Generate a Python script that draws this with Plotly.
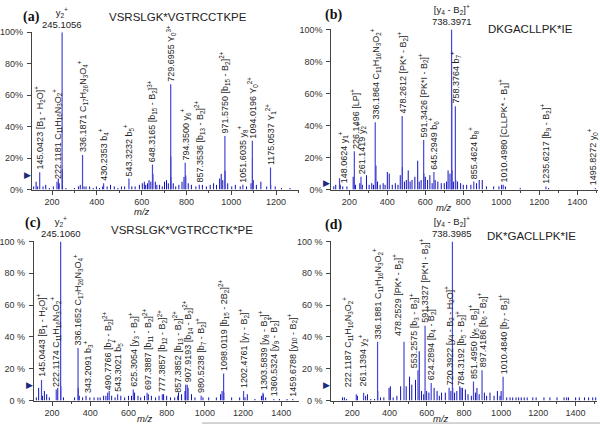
import plotly.graph_objects as go

# ---------------- data ----------------
# Panel (a)  VSRSLGK*VGTRCCTKPE
a_lab_mz = [145.0423, 222.1181, 245.1056, 336.1871, 430.2353, 543.3232, 648.3165, 729.6955,
            794.3500, 857.3536, 971.5750, 1051.6035, 1094.0196, 1175.0537]
a_lab_int = [11, 5, 100, 22, 4, 7, 16, 67, 17, 3, 34, 3, 31, 14]
a_lab_txt = ["145.0423 [B<sub>1</sub> - H<sub>2</sub>O]<sup>+</sup>",
             "222.1181 C<sub>11</sub>H<sub>16</sub>N<sub>3</sub>O<sub>2</sub><sup>+</sup>",
             "y<sub>2</sub><sup>+</sup><br>245.1056",
             "336.1871 C<sub>17</sub>H<sub>26</sub>N<sub>3</sub>O<sub>4</sub><sup>+</sup>",
             "430.2353 b<sub>4</sub><sup>+</sup>",
             "543.3232 b<sub>5</sub><sup>+</sup>",
             "648.3165 [b<sub>15</sub> - B<sub>2</sub>]<sup>3+</sup>",
             "729.6955 Y<sub>0</sub><sup>3+</sup>",
             "794.3500 y<sub>6</sub><sup>+</sup>",
             "857.3536 [b<sub>13</sub> - B<sub>2</sub>]<sup>2+</sup>",
             "971.5750 [b<sub>15</sub> - B<sub>2</sub>]<sup>2+</sup>",
             "1051.6035 y<sub>8</sub><sup>+</sup>",
             "1094.0196 Y<sub>0</sub><sup>2+</sup>",
             "1175.0537 Y<sub>1</sub><sup>2+</sup>"]
a_noise_mz = [118, 129, 136, 160, 172, 188, 206, 228, 232, 246.1, 247, 262, 300, 318, 326, 343, 352, 368,
              384, 398, 412, 426, 446, 461, 478, 494, 510, 524, 556, 571, 590, 603, 612, 618, 626, 633,
              641, 650.3, 661, 668, 680, 692, 702, 711, 719, 730.03, 730.36, 741, 752, 766, 780, 789,
              797, 808, 822, 842, 871, 889, 906, 921, 934, 948, 955, 962, 972.08, 984, 1002, 1018,
              1040, 1068, 1088, 1094.52, 1098, 1112, 1132, 1158, 1176, 1196, 1224, 1262]
a_noise_int = [2, 5, 2, 2, 3, 1, 2, 7, 4, 13, 3, 1, 1, 2, 3, 2, 2, 2,
               1, 2, 1, 2, 2, 3, 2, 1, 2, 2, 2, 2, 3, 4, 5, 3, 4, 6,
               5, 10, 5, 3, 3, 2, 5, 6, 4, 21, 8, 4, 2, 3, 5, 8,
               9, 4, 3, 2, 3, 2, 3, 4, 3, 7, 10, 6, 12, 4, 2, 3,
               2, 2, 4, 20, 6, 3, 5, 2, 3, 2, 1, 1]

# Panel (b)  DKGACLLPK*IE
b_lab_mz = [148.0624, 226.1496, 261.1419, 336.1864, 478.2612, 591.3426, 645.2949, 738.3971,
            758.3764, 855.4624, 1010.4980, 1235.6217, 1495.8272]
b_lab_int = [7, 24, 8, 42, 46, 31, 11, 100, 52, 5, 3, 2, 1]
b_lab_txt = ["148.0624 y<sub>1</sub><sup>+</sup>",
             "226.1496 [LP]<sup>+</sup>",
             "261.1419 y<sub>2</sub><sup>+</sup>",
             "336.1864 C<sub>11</sub>H<sub>16</sub>N<sub>3</sub>O<sub>2</sub><sup>+</sup>",
             "478.2612 [PK* - B<sub>2</sub>]<sup>+</sup>",
             "591.3426 [PK*I - B<sub>2</sub>]<sup>+</sup>",
             "645.2949 b<sub>6</sub><sup>+</sup>",
             "[y<sub>4</sub> - B<sub>2</sub>]<sup>+</sup><br>738.3971",
             "758.3764 b<sub>7</sub><sup>+</sup>",
             "855.4624 b<sub>8</sub><sup>+</sup>",
             "1010.4980 [CLLPK* - B<sub>1</sub>]<sup>+</sup>",
             "1235.6217 [b<sub>9</sub> - B<sub>2</sub>]<sup>+</sup>",
             "1495.8272 y<sub>0</sub><sup>+</sup>"]
b_noise_mz = [118, 128, 152, 165, 187, 220, 232, 255, 268, 290, 304, 318, 327, 340, 348, 362, 378, 388,
              400, 410, 426, 442, 456, 468, 479.26, 490, 500, 510, 520, 530, 545, 560, 568, 578,
              592.34, 600, 612, 624, 636, 652, 666, 684, 700, 712, 720, 730, 739.4, 740.4, 748,
              760.4, 770, 786, 800, 818, 840, 870, 884, 900, 922, 960, 988, 1002, 1022, 1100, 1250]
b_noise_int = [2, 3, 3, 2, 2, 8, 3, 4, 3, 9, 3, 4, 3, 15, 5, 3, 4, 3,
               11, 10, 3, 4, 3, 9, 14, 5, 6, 12, 5, 6, 8, 18, 5, 6,
               10, 8, 6, 9, 4, 6, 5, 4, 4, 5, 12, 10, 57, 12, 5,
               6, 5, 4, 3, 3, 3, 4, 6, 6, 2, 2, 2, 3, 2, 1, 1]

# Panel (c)  VSRSLGK*VGTRCCTK*PE
c_lab_mz = [145.0443, 222.1174, 245.1060, 336.1652, 343.2091, 490.7766, 543.3021, 625.3054,
            697.3887, 777.3857, 857.3852, 907.9193, 980.5238, 1098.0119, 1202.4761, 1303.5839,
            1360.5324, 1459.6788]
c_lab_int = [13, 7, 100, 33, 3, 5, 4, 7, 5, 4, 3, 10, 3, 17, 6, 5, 1, 1]
c_lab_txt = ["145.0443 [B<sub>1</sub> - H<sub>2</sub>O]<sup>+</sup>",
             "222.1174 C<sub>11</sub>H<sub>16</sub>N<sub>3</sub>O<sub>2</sub><sup>+</sup>",
             "y<sub>2</sub><sup>+</sup><br>245.1060",
             "336.1652 C<sub>17</sub>H<sub>26</sub>N<sub>3</sub>O<sub>4</sub><sup>+</sup>",
             "343.2091 b<sub>3</sub><sup>+</sup>",
             "490.7766 [b<sub>7</sub> - B<sub>2</sub>]<sup>2+</sup>",
             "543.3021 b<sub>5</sub><sup>+</sup>",
             "625.3054 [y<sub>3</sub> - B<sub>2</sub>]<sup>+</sup>",
             "697.3887 [b<sub>11</sub> - B<sub>2</sub>]<sup>2+</sup>",
             "777.3857 [b<sub>12</sub> - B<sub>2</sub>]<sup>2+</sup>",
             "857.3852 [b<sub>13</sub> - B<sub>2</sub>]<sup>2+</sup>",
             "907.9193 [b<sub>14</sub> - B<sub>2</sub>]<sup>2+</sup>",
             "980.5238 [b<sub>7</sub> - B<sub>2</sub>]<sup>+</sup>",
             "1098.0119 [b<sub>15</sub> - 2B<sub>2</sub>]<sup>2+</sup>",
             "1202.4761 [y<sub>7</sub> - B<sub>2</sub>]<sup>+</sup>",
             "1303.5839 [y<sub>8</sub> - B<sub>2</sub>]<sup>+</sup>",
             "1360.5324 [y<sub>9</sub> - B<sub>2</sub>]<sup>+</sup>",
             "1459.6788 [y<sub>10</sub> - B<sub>2</sub>]<sup>+</sup>"]
c_noise_mz = [118, 130, 150, 160, 172, 186, 230, 246.1, 260, 318, 337.2, 360, 378, 398, 420, 440, 452,
              470, 482, 499, 512, 530, 560, 580, 600, 616, 632, 650, 664, 684, 704, 720, 742, 760,
              784, 800, 820, 842, 862, 878, 896, 900, 912, 930, 948, 990, 1020, 1060, 1082, 1090,
              1099, 1140, 1182, 1210, 1222, 1262, 1296, 1306, 1318, 1390, 1430]
c_noise_int = [2, 8, 3, 6, 4, 2, 8, 9, 2, 2, 8, 2, 3, 2, 2, 2, 2,
               3, 3, 6, 3, 2, 3, 2, 3, 3, 5, 3, 2, 3, 4, 3, 2, 3,
               4, 3, 2, 2, 5, 4, 6, 10, 8, 4, 2, 2, 2, 2, 4, 6,
               5, 2, 2, 2, 4, 1, 3, 4, 2, 1, 1]

# Panel (d)  DK*GACLLPK*IE
d_lab_mz = [222.1187, 261.1394, 336.1881, 478.2529, 553.2575, 591.3327, 624.2894, 720.3922,
            738.3985, 784.3192, 851.4950, 897.4186, 1010.4840]
d_lab_int = [4, 5, 37, 37, 19, 47, 11, 8, 100, 8, 12, 19, 15]
d_lab_txt = ["222.1187 C<sub>11</sub>H<sub>16</sub>N<sub>3</sub>O<sub>2</sub><sup>+</sup>",
             "261.1394 y<sub>2</sub><sup>+</sup>",
             "336.1881 C<sub>11</sub>H<sub>16</sub>N<sub>3</sub>O<sub>2</sub><sup>+</sup>",
             "478.2529 [PK* - B<sub>2</sub>]<sup>+</sup>",
             "553.2575 [b<sub>3</sub> - B<sub>2</sub>]<sup>+</sup>",
             "591.3327 [PK*I - B<sub>2</sub>]<sup>+</sup>",
             "624.2894 [b<sub>4</sub> - B<sub>2</sub>]<sup>+</sup>",
             "720.3922 [y<sub>4</sub> - B<sub>2</sub> - H<sub>2</sub>O]<sup>+</sup>",
             "[y<sub>4</sub> - B<sub>2</sub>]<sup>+</sup><br>738.3985",
             "784.3192 [b<sub>5</sub> - B<sub>2</sub>]<sup>+</sup>",
             "851.4950 [y<sub>5</sub> - B<sub>2</sub>]<sup>+</sup>",
             "897.4186 [b<sub>6</sub> - B<sub>2</sub>]<sup>+</sup>",
             "1010.4840 [b<sub>7</sub> - B<sub>2</sub>]<sup>+</sup>"]
d_noise_mz = [148, 158, 170, 228, 272, 282, 300, 320, 337.2, 352, 370, 398, 405, 420, 440, 460, 490,
              508, 520, 540, 560, 572, 584, 600, 612, 640, 656, 668, 680, 700, 730, 740, 750, 762,
              778, 792, 808, 822, 840, 862, 870, 882, 910, 922, 940, 962, 980, 994, 1000, 1030,
              1048, 1062, 1080, 1094, 1108, 1124, 1140, 1170, 1188, 1230, 1262, 1300, 1338, 1352,
              1362, 1400, 1420, 1448, 1470, 1492, 1508]
d_noise_int = [2, 2, 1, 3, 3, 4, 1, 1, 6, 2, 2, 8, 9, 2, 3, 9, 9,
               15, 10, 13, 31, 6, 4, 6, 5, 8, 6, 3, 5, 5, 6, 8, 5, 6,
               9, 8, 7, 4, 3, 5, 8, 4, 5, 3, 5, 3, 6, 3, 6, 2,
               2, 2, 2, 2, 2, 2, 2, 2, 2, 2, 2, 2, 2, 2,
               2, 2, 2, 2, 2, 2, 2]

y_ticks = [0, 20, 40, 60, 80, 100]

# ---------------- style / layout ----------------
LAB_COL = "#4646d8"
NOISE_COL = "#1010b8"
FONT = "Liberation Sans"

panels = [
    dict(key="a", letter="(a)", seq="VSRSLGK*VGTRCCTKPE",
         lab_mz=a_lab_mz, lab_int=a_lab_int, lab_txt=a_lab_txt,
         n_mz=a_noise_mz, n_int=a_noise_int,
         xdom=[0.0483, 0.495], ydom=[0.5605, 0.9349], xr=[110, 1300],
         xt=[200, 400, 600, 800, 1000, 1200], pct="%", thr=9,
         letter_xy=(29, 12), seq_xy=(176, 12), mz_xy=(140, 211)),
    dict(key="b", letter="(b)", seq="DKGACLLPK*IE",
         lab_mz=b_lab_mz, lab_int=b_lab_int, lab_txt=b_lab_txt,
         n_mz=b_noise_mz, n_int=b_noise_int,
         xdom=[0.55, 0.9967], ydom=[0.5605, 0.9419], xr=[105, 1510],
         xt=[200, 400, 600, 800, 1000, 1200, 1400], pct="%", thr=4,
         letter_xy=(332, 10), seq_xy=(530, 25), mz_xy=(443, 207)),
    dict(key="c", letter="(c)", seq="VSRSLGK*VGTRCCTK*PE",
         lab_mz=c_lab_mz, lab_int=c_lab_int, lab_txt=c_lab_txt,
         n_mz=c_noise_mz, n_int=c_noise_int,
         xdom=[0.0517, 0.495], ydom=[0.0581, 0.4372], xr=[105, 1490],
         xt=[200, 400, 600, 800, 1000, 1200, 1400], pct=" %", thr=10,
         letter_xy=(30, 223), seq_xy=(180, 230), mz_xy=(143, 423)),
    dict(key="d", letter="(d)", seq="DK*GACLLPK*IE",
         lab_mz=d_lab_mz, lab_int=d_lab_int, lab_txt=d_lab_txt,
         n_mz=d_noise_mz, n_int=d_noise_int,
         xdom=[0.55, 0.995], ydom=[0.0581, 0.4372], xr=[88, 1515],
         xt=[200, 400, 600, 800, 1000, 1200, 1400], pct=" %", thr=10,
         letter_xy=(332, 225), seq_xy=(531, 236), mz_xy=(440, 423)),
]

# per-label tweaks: (panel, mz) -> (label y offset in %, xshift px)
tweak = {
    ("b", 148.0624): (-5, 4),
    ("b", 1495.8272): (0, -2),
    ("c", 343.2091): (0, 9),
    ("d", 222.1187): (3, -8),
    ("d", 261.1394): (2, 0),
    ("d", 478.2529): (2, -6),
    ("d", 553.2575): (0, -4),
}

W, H = 600, 430
fig = go.Figure()
annotations = []

def sticks(mz, inten):
    xs, ys = [], []
    for m, v in zip(mz, inten):
        xs += [m, m, None]
        ys += [0, v, None]
    return xs, ys

for i, p in enumerate(panels):
    n = "" if i == 0 else str(i + 1)
    xa, ya = "x" + n, "y" + n
    xs, ys = sticks(p["n_mz"], p["n_int"])
    fig.add_trace(go.Scatter(x=xs, y=ys, mode="lines", xaxis=xa, yaxis=ya,
                             line=dict(color=NOISE_COL, width=1), showlegend=False, hoverinfo="skip"))
    xs, ys = sticks(p["lab_mz"], p["lab_int"])
    fig.add_trace(go.Scatter(x=xs, y=ys, mode="lines", xaxis=xa, yaxis=ya,
                             line=dict(color=LAB_COL, width=1.2), showlegend=False, hoverinfo="skip"))

    axis_common = dict(showline=True, linecolor="#444", linewidth=1, ticks="outside", ticklen=4,
                       tickcolor="#444", tickfont=dict(family=FONT, size=9, color="#333"),
                       showgrid=False, zeroline=False)
    fig.update_layout(**{
        "xaxis" + n: dict(domain=p["xdom"], range=p["xr"], anchor=ya, tickvals=p["xt"],
                          minor=dict(ticks="outside", ticklen=2, dtick=100, tickcolor="#444"),
                          **axis_common),
        "yaxis" + n: dict(domain=p["ydom"], range=[0, 100], anchor=xa, tickvals=y_ticks,
                          ticktext=[f"{t}{p['pct']}" for t in y_ticks], ticklabelstandoff=2,
                          **axis_common),
    })

    for m, v, t in zip(p["lab_mz"], p["lab_int"], p["lab_txt"]):
        if v >= 100:
            annotations.append(dict(x=m, y=100, xref=xa, yref=ya, text=t, showarrow=False,
                                    xanchor="center", yanchor="bottom", yshift=0,
                                    font=dict(family=FONT, size=9.5, color="#222")))
            continue
        dy, dx = tweak.get((p["key"], m), (0, 0))
        annotations.append(dict(x=m, y=v + 1 + dy, xref=xa, yref=ya, text=t, showarrow=False,
                                textangle=-90, xanchor="center", yanchor="bottom", xshift=dx,
                                borderpad=0,
                                font=dict(family=FONT, size=9, color="#222")))

    # threshold marker
    annotations.append(dict(x=0, y=p["thr"], xref=xa + " domain", yref=ya, text="▶",
                            showarrow=False, xanchor="right", yanchor="middle", xshift=1,
                            font=dict(family="DejaVu Sans", size=9, color="#1c2a80")))
    lx, ly = p["letter_xy"]
    annotations.append(dict(x=lx / W, y=1 - ly / H, xref="paper", yref="paper", text="<b>" + p["letter"] + "</b>",
                            showarrow=False, xanchor="center", yanchor="middle",
                            font=dict(family="Liberation Serif", size=14, color="#111")))
    sx, sy = p["seq_xy"]
    annotations.append(dict(x=sx / W, y=1 - sy / H, xref="paper", yref="paper", text=p["seq"],
                            showarrow=False, xanchor="center", yanchor="middle",
                            font=dict(family=FONT, size=11.5, color="#222")))
    mx, my = p["mz_xy"]
    annotations.append(dict(x=mx / W, y=1 - my / H, xref="paper", yref="paper", text="<i>m/z</i>",
                            showarrow=False, xanchor="center", yanchor="middle",
                            font=dict(family=FONT, size=9.5, color="#222")))

fig.update_layout(
    width=W, height=H, margin=dict(l=0, r=0, t=0, b=0),
    paper_bgcolor="white", plot_bgcolor="white",
    annotations=annotations,
    shapes=[dict(type="line", xref="paper", yref="paper", x0=200 / W, x1=1, y0=1 - 428 / H, y1=1 - 428 / H,
                 line=dict(color="#aaa", width=1))],
)

fig.write_html("out.html", config={"displayModeBar": False},
               post_script="document.body.style.margin='0';document.body.style.overflow='hidden';")
